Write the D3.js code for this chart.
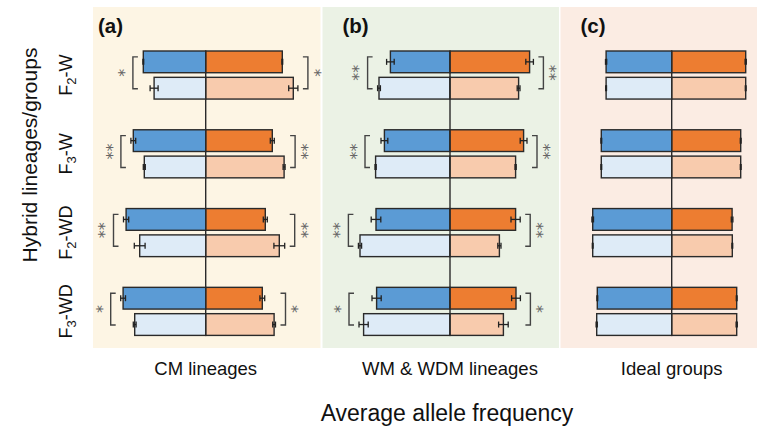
<!DOCTYPE html>
<html>
<head>
<meta charset="utf-8">
<script src="https://cdn.jsdelivr.net/npm/d3@7"></script>
<style>
  body { margin: 0; background: #fff; }
  svg { display: block; font-family: "Liberation Sans", Arial, sans-serif; }
</style>
</head>
<body>
<div id="chart"></div>
<script>
// rows per group: [dark, light]
const groups = ['F2-W', 'F3-W', 'F2-WD', 'F3-WD'];
const panelTags = ['(a)', '(b)', '(c)'];
const panelNames = ['CM lineages', 'WM & WDM lineages', 'Ideal groups'];

const cmLeft = [[0.312, 0.258], [0.362, 0.307], [0.398, 0.330], [0.413, 0.355]];
const cmRight = [[0.383, 0.438], [0.333, 0.392], [0.298, 0.368], [0.283, 0.342]];
const cmLeftErr = [[0.002, 0.020], [0.012, 0.005], [0.013, 0.027], [0.012, 0.007]];
const cmRightErr = [[0.002, 0.023], [0.010, 0.005], [0.010, 0.027], [0.012, 0.007]];
const cmSig = [['*', '*'], ['**', '**'], ['**', '**'], ['*', '*']];

const wmLeft = [[0.298, 0.355], [0.328, 0.372], [0.370, 0.450], [0.367, 0.432]];
const wmRight = [[0.398, 0.343], [0.368, 0.328], [0.328, 0.247], [0.330, 0.267]];
const wmLeftErr = [[0.019, 0.007], [0.017, 0.003], [0.024, 0.008], [0.023, 0.023]];
const wmRightErr = [[0.019, 0.007], [0.017, 0.003], [0.023, 0.008], [0.022, 0.024]];
const wmSig = [['**', '**'], ['**', '**'], ['**', '**'], ['*', '*']];

const idealLeft = [[0.328, 0.328], [0.352, 0.352], [0.395, 0.395], [0.372, 0.375]];
const idealRight = [[0.370, 0.370], [0.345, 0.345], [0.302, 0.303], [0.325, 0.325]];
const idealLeftErr = [[0.003, 0.002], [0.002, 0.002], [0.004, 0.002], [0.002, 0.003]];
const idealRightErr = [[0.003, 0.002], [0.002, 0.002], [0.004, 0.002], [0.002, 0.003]];
const idealSig = [null, null, null, null];

const panels = [
    { left: cmLeft, right: cmRight, leftErr: cmLeftErr, rightErr: cmRightErr, sig: cmSig,
      x0: 93, x1: 320.5, center: 205.7, bg: '#fdf5e4' },
    { left: wmLeft, right: wmRight, leftErr: wmLeftErr, rightErr: wmRightErr, sig: wmSig,
      x0: 322.5, x1: 559, center: 450, bg: '#ebf2e5' },
    { left: idealLeft, right: idealRight, leftErr: idealLeftErr, rightErr: idealRightErr, sig: idealSig,
      x0: 560.5, x1: 757, center: 671.7, bg: '#fbece3' },
];

const width = 763;
const height = 429;
const panelTop = 7;
const panelBottom = 348;

const fills = {
    left: ['#5b9bd5', '#deebf7'],
    right: ['#ed7d31', '#f8cbad'],
};

const svg = d3.select('#chart').append('svg')
    .attr('width', width)
    .attr('height', height);

const y = d3.scaleBand(groups, [51, 335.4]).paddingInner(0.39).paddingOuter(0);
const yRow = d3.scaleBand([0, 1], [0, y.bandwidth()]).paddingInner(0.175);

function rowMid(g, r) {
    return y(g) + yRow(r) + yRow.bandwidth() / 2;
}

panels.forEach((p, pi) => {
    const x = d3.scaleLinear().domain([-0.5, 0.5]).range([p.center - 100, p.center + 100]);
    const g = svg.append('g');

    g.append('rect')
        .attr('x', p.x0).attr('y', panelTop)
        .attr('width', p.x1 - p.x0).attr('height', panelBottom - panelTop)
        .attr('fill', p.bg);

    g.append('text')
        .attr('x', p.x0 + (pi === 0 ? 5 : 20))
        .attr('y', 33)
        .attr('font-size', 20.5)
        .attr('font-weight', 'bold')
        .attr('fill', '#111')
        .text(panelTags[pi]);

    const rows = [];
    groups.forEach((grp, gi) => {
        [0, 1].forEach(r => {
            rows.push({ grp, gi, r, side: 'left', v: p.left[gi][r], e: p.leftErr[gi][r] });
            rows.push({ grp, gi, r, side: 'right', v: p.right[gi][r], e: p.rightErr[gi][r] });
        });
    });

    g.append('g')
        .selectAll('rect')
        .data(rows)
        .join('rect')
        .attr('x', d => (d.side === 'left' ? x(-d.v) : x(0)))
        .attr('y', d => y(d.grp) + yRow(d.r))
        .attr('width', d => x(d.v) - x(0))
        .attr('height', yRow.bandwidth())
        .attr('fill', d => fills[d.side][d.r])
        .attr('stroke', '#2a2a2a')
        .attr('stroke-width', 1.4);

    g.append('line')
        .attr('x1', x(0)).attr('x2', x(0))
        .attr('y1', y(groups[0])).attr('y2', y(groups[3]) + y.bandwidth())
        .attr('stroke', '#2a2a2a')
        .attr('stroke-width', 1.4);

    const eb = g.append('g')
        .attr('stroke', '#222')
        .attr('stroke-width', 1.3);
    rows.forEach(d => {
        const s = d.side === 'left' ? -1 : 1;
        const xa = x(s * (d.v - d.e));
        const xb = x(s * (d.v + d.e));
        const cy = rowMid(d.grp, d.r);
        eb.append('line').attr('x1', xa).attr('x2', xb).attr('y1', cy).attr('y2', cy);
        eb.append('line').attr('x1', xa).attr('x2', xa).attr('y1', cy - 3).attr('y2', cy + 3);
        eb.append('line').attr('x1', xb).attr('x2', xb).attr('y1', cy - 3).attr('y2', cy + 3);
    });

    groups.forEach((grp, gi) => {
        const sig = p.sig[gi];
        if (!sig) return;
        const y1 = rowMid(grp, 0) - 5;
        const y2 = rowMid(grp, 1) + 0.5;
        const mid = (y1 + y2) / 2;
        const lx = x(-d3.max([0, 1], r => p.left[gi][r] + p.leftErr[gi][r])) - 10;
        const rx = x(d3.max([0, 1], r => p.right[gi][r] + p.rightErr[gi][r])) + 10;

        g.append('path')
            .attr('d', `M${lx + 5},${y1}H${lx}V${y2}H${lx + 5}`)
            .attr('fill', 'none').attr('stroke', '#444').attr('stroke-width', 1.4);
        g.append('path')
            .attr('d', `M${rx - 5},${y1}H${rx}V${y2}H${rx - 5}`)
            .attr('fill', 'none').attr('stroke', '#444').attr('stroke-width', 1.4);

        [[lx - 12, sig[0]], [rx + 9, sig[1]]].forEach(([sx, txt]) => {
            g.append('text')
                .attr('transform', `translate(${sx},${mid}) rotate(-90)`)
                .attr('text-anchor', 'middle')
                .attr('dy', '0.55em')
                .attr('font-family', '"DejaVu Sans", sans-serif')
                .attr('font-size', 16)
                .attr('fill', '#666')
                .text(txt);
        });
    });

    svg.append('text')
        .attr('x', p.center)
        .attr('y', 375)
        .attr('text-anchor', 'middle')
        .attr('font-size', 18.5)
        .attr('fill', '#111')
        .text(panelNames[pi]);
});

// group labels with subscripts
groups.forEach(grp => {
    const [head, tail] = grp.split('-');
    const t = svg.append('text')
        .attr('transform', `translate(72,${y(grp) + y.bandwidth() / 2}) rotate(-90)`)
        .attr('text-anchor', 'middle')
        .attr('font-size', 18)
        .attr('fill', '#111');
    t.append('tspan').text(head[0]);
    t.append('tspan').attr('dy', 4).attr('font-size', 13).text(head[1]);
    t.append('tspan').attr('dy', -4).text('-' + tail);
});

svg.append('text')
    .attr('transform', `translate(37,${155}) rotate(-90)`)
    .attr('text-anchor', 'middle')
    .attr('font-size', 21)
    .attr('fill', '#111')
    .text('Hybrid lineages/groups');

svg.append('text')
    .attr('x', 447)
    .attr('y', 421)
    .attr('text-anchor', 'middle')
    .attr('font-size', 23)
    .attr('fill', '#111')
    .text('Average allele frequency');
</script>
</body>
</html>
